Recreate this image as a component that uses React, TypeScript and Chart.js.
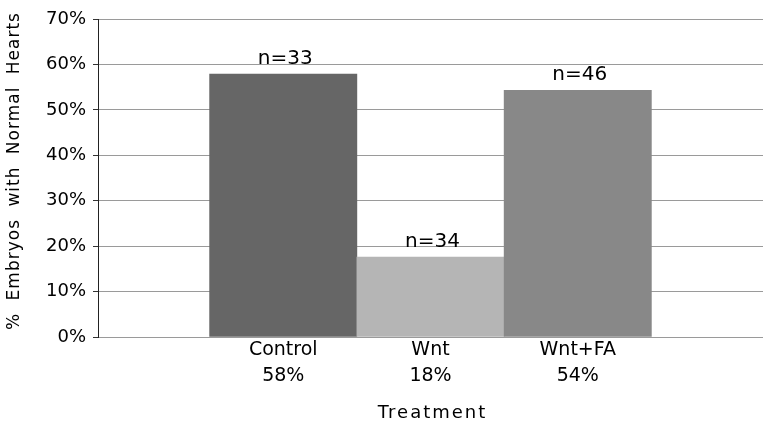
import React, { useEffect, useRef } from "react";
import { Chart, registerables } from "chart.js";

Chart.register(...registerables);

const CATEGORIES = ["Control", "Wnt", "Wnt+FA"];
const VALUES = [57.9, 17.6, 54.3];
const PERCENT_LABELS = ["58%", "18%", "54%"];
const N_LABELS = ["n=33", "n=34", "n=46"];
const COLORS = ["#666666", "#b5b5b5", "#888888"];
const Y_TICKS_MAX = 70;
const Y_TITLE = "% Embryos with Normal Hearts";
const X_TITLE = "Treatment";

const FONT = "'DejaVu Sans', 'Liberation Sans', sans-serif";

const annotatePlugin = {
  id: "annotate",
  afterDatasetsDraw(chart: any) {
    const ctx = chart.ctx;
    const meta = chart.getDatasetMeta(0);
    ctx.save();
    ctx.font = `20px ${FONT}`;
    ctx.fillStyle = "#000";
    ctx.textAlign = "center";
    ctx.textBaseline = "alphabetic";
    meta.data.forEach((bar: any, i: number) => {
      ctx.fillText(N_LABELS[i], bar.x + 2, bar.y - 10);
    });
    ctx.restore();
  },
  afterDraw(chart: any) {
    const ctx = chart.ctx;
    const area = chart.chartArea;
    ctx.save();
    ctx.fillStyle = "#000";
    ctx.font = `17px ${FONT}`;
    (ctx as any).letterSpacing = "1px";
    (ctx as any).wordSpacing = "6px";
    ctx.translate(15, (area.top + area.bottom) / 2 - 7);
    ctx.rotate(-Math.PI / 2);
    ctx.textAlign = "center";
    ctx.textBaseline = "middle";
    ctx.fillText(Y_TITLE, 0, 0);
    ctx.restore();

    ctx.save();
    ctx.fillStyle = "#000";
    ctx.font = `18px ${FONT}`;
    (ctx as any).letterSpacing = "2px";
    ctx.textAlign = "center";
    ctx.textBaseline = "alphabetic";
    ctx.fillText(X_TITLE, (area.left + area.right) / 2 + 2, 418);
    ctx.restore();
  },
};

export default function App() {
  const canvasRef = useRef<HTMLCanvasElement | null>(null);

  useEffect(() => {
    if (!canvasRef.current) return;
    Chart.defaults.font.family = FONT;
    const chart = new Chart(canvasRef.current, {
      type: "bar",
      data: {
        datasets: [
          {
            data: VALUES.map((v, i) => ({ x: i + 1, y: v })),
            backgroundColor: COLORS,
            borderWidth: 0,
            categoryPercentage: 1,
            barPercentage: 1,
          },
        ],
      },
      options: {
        responsive: false,
        animation: false,
        devicePixelRatio: 1,
        layout: { padding: { top: 19, right: 5, left: 0, bottom: 0 } },
        plugins: {
          legend: { display: false },
          tooltip: { enabled: false },
        },
        scales: {
          x: {
            type: "linear",
            offset: false,
            min: -0.258,
            max: 4.258,
            grid: { display: false, drawTicks: false },
            border: { display: false },
            afterBuildTicks: (scale: any) => {
              scale.ticks = CATEGORIES.map((_, i) => ({ value: i + 1 }));
            },
            afterFit: (scale: any) => {
              scale.height = 101;
            },
            ticks: {
              autoSkip: false,
              maxRotation: 0,
              padding: 1,
              color: "#000",
              font: { size: 19, family: FONT, lineHeight: 1.32 },
              callback: (value: any) => {
                const i = Math.round(Number(value)) - 1;
                return [CATEGORIES[i], PERCENT_LABELS[i]];
              },
            },
          },
          y: {
            min: 0,
            max: Y_TICKS_MAX,
            grid: {
              color: "#9a9a9a",
              lineWidth: 1,
              tickLength: 5,
              tickColor: "#333",
            },
            border: { display: true, color: "#222", width: 1 },
            afterFit: (scale: any) => {
              scale.width = 98;
            },
            ticks: {
              stepSize: 10,
              padding: 7,
              color: "#000",
              font: { size: 18, family: FONT },
              callback: (v: any) => `${v}%`,
            },
          },
        },
      },
      plugins: [annotatePlugin],
    });
    return () => chart.destroy();
  }, []);

  return (
    <div
      style={{
        position: "fixed",
        left: 0,
        top: 0,
        width: 768,
        height: 438,
        background: "#fff",
      }}
    >
      <canvas ref={canvasRef} width={768} height={438} />
    </div>
  );
}
